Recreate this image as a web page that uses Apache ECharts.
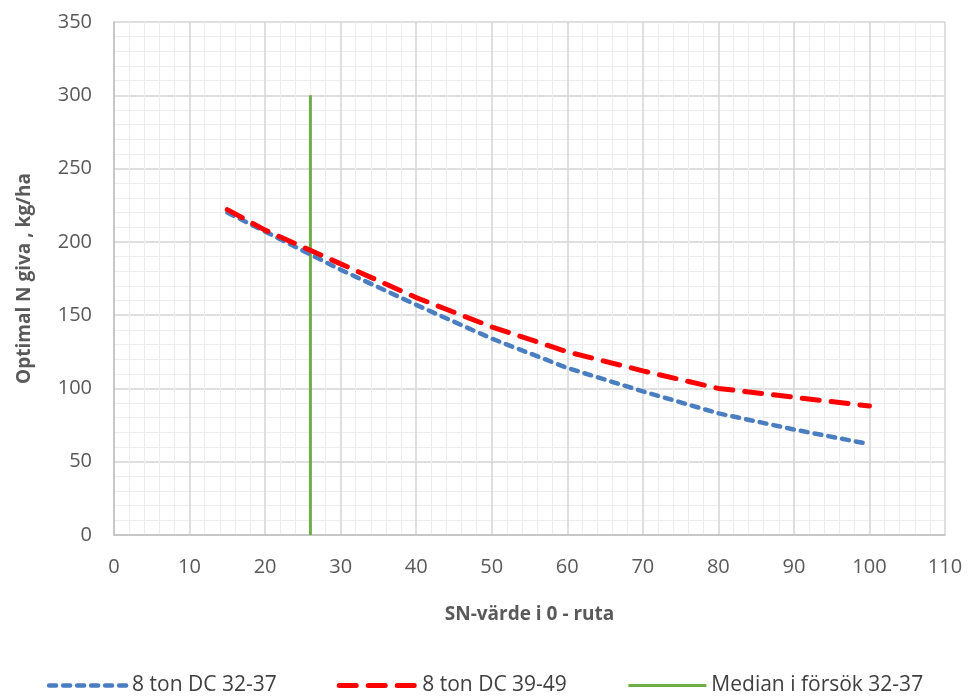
<!DOCTYPE html>
<html>
<head>
<meta charset="utf-8">
<script src="https://cdn.jsdelivr.net/npm/echarts@6/dist/echarts.min.js"></script>
<style>html,body{margin:0;padding:0;background:#fff}#c{width:970px;height:699px}</style>
</head>
<body>
<div id="c"></div>
<script>
const xValues = [15, 20, 30, 40, 50, 60, 70, 80, 90, 100];
const blueValues = [220, 207, 181, 157, 134, 114, 98, 83, 72, 62];
const redValues = [222, 208, 185, 162, 142, 125, 112, 100, 94, 88];
const medianX = [26, 26];
const medianY = [0, 300];
const seriesNames = ['8 ton DC 32-37', '8 ton DC 39-49', 'Median i försök 32-37'];

const font = 'Open Sans';
const blueStyle = {color: '#4A7EC1', width: 4.5, type: [7, 7], cap: 'round'};
const redStyle = {color: '#FF0000', width: 5, type: [17, 12], cap: 'round'};
const greenStyle = {color: '#70AD47', width: 3, type: 'solid'};
const chart = echarts.init(document.getElementById('c'), null, {renderer: 'canvas'});
chart.setOption({
  animation: false,
  backgroundColor: '#fff',
  grid: {left: 114, right: 25, top: 22, bottom: 164, containLabel: false},
  xAxis: {
    type: 'value', min: 0, max: 110, interval: 10,
    name: 'SN-värde i 0 - ruta', nameLocation: 'middle', nameGap: 70,
    nameTextStyle: {fontFamily: font, fontSize: 19, fontWeight: 'bold', color: '#595959'},
    axisLine: {show: true, lineStyle: {color: '#BFBFBF', width: 1.5}},
    axisTick: {show: false},
    axisLabel: {fontFamily: font, fontSize: 20, color: '#595959', margin: 22},
    splitLine: {show: true, lineStyle: {color: '#D4D4D4', width: 1.5}},
    minorTick: {show: false, splitNumber: 5},
    minorSplitLine: {show: true, lineStyle: {color: '#EDEDED', width: 1}}
  },
  yAxis: {
    type: 'value', min: 0, max: 350, interval: 50,
    name: 'Optimal N giva , kg/ha', nameLocation: 'middle', nameGap: 80,
    nameTextStyle: {fontFamily: font, fontSize: 19, fontWeight: 'bold', color: '#595959'},
    axisLine: {show: true, lineStyle: {color: '#BFBFBF', width: 1.5}},
    axisTick: {show: false},
    axisLabel: {fontFamily: font, fontSize: 20, color: '#595959', margin: 22},
    splitLine: {show: true, lineStyle: {color: '#D4D4D4', width: 1.5}},
    minorTick: {show: false, splitNumber: 5},
    minorSplitLine: {show: true, lineStyle: {color: '#EDEDED', width: 1}}
  },
  legend: {
    bottom: -2, left: 'center', itemWidth: 78, itemHeight: 14, itemGap: 60,
    textStyle: {fontFamily: font, fontSize: 21, color: '#404040'},
    itemStyle: {opacity: 0},
    data: [
      {name: seriesNames[0], lineStyle: blueStyle, itemStyle: {opacity: 0}},
      {name: seriesNames[1], lineStyle: redStyle, itemStyle: {opacity: 0}},
      {name: seriesNames[2], lineStyle: greenStyle, itemStyle: {opacity: 0}}
    ]
  },
  series: [
    {
      name: seriesNames[0], type: 'line', showSymbol: false, symbol: 'none',
      data: xValues.map((x, i) => [x, blueValues[i]]),
      lineStyle: blueStyle, itemStyle: {color: '#4A7EC1'}, z: 3
    },
    {
      name: seriesNames[1], type: 'line', showSymbol: false, symbol: 'none',
      data: xValues.map((x, i) => [x, redValues[i]]),
      lineStyle: redStyle, itemStyle: {color: '#FF0000'}, z: 4
    },
    {
      name: seriesNames[2], type: 'line', showSymbol: false, symbol: 'none',
      data: medianX.map((x, i) => [x, medianY[i]]),
      lineStyle: greenStyle, itemStyle: {color: '#70AD47'}, z: 2
    }
  ]
});
</script>
</body>
</html>
